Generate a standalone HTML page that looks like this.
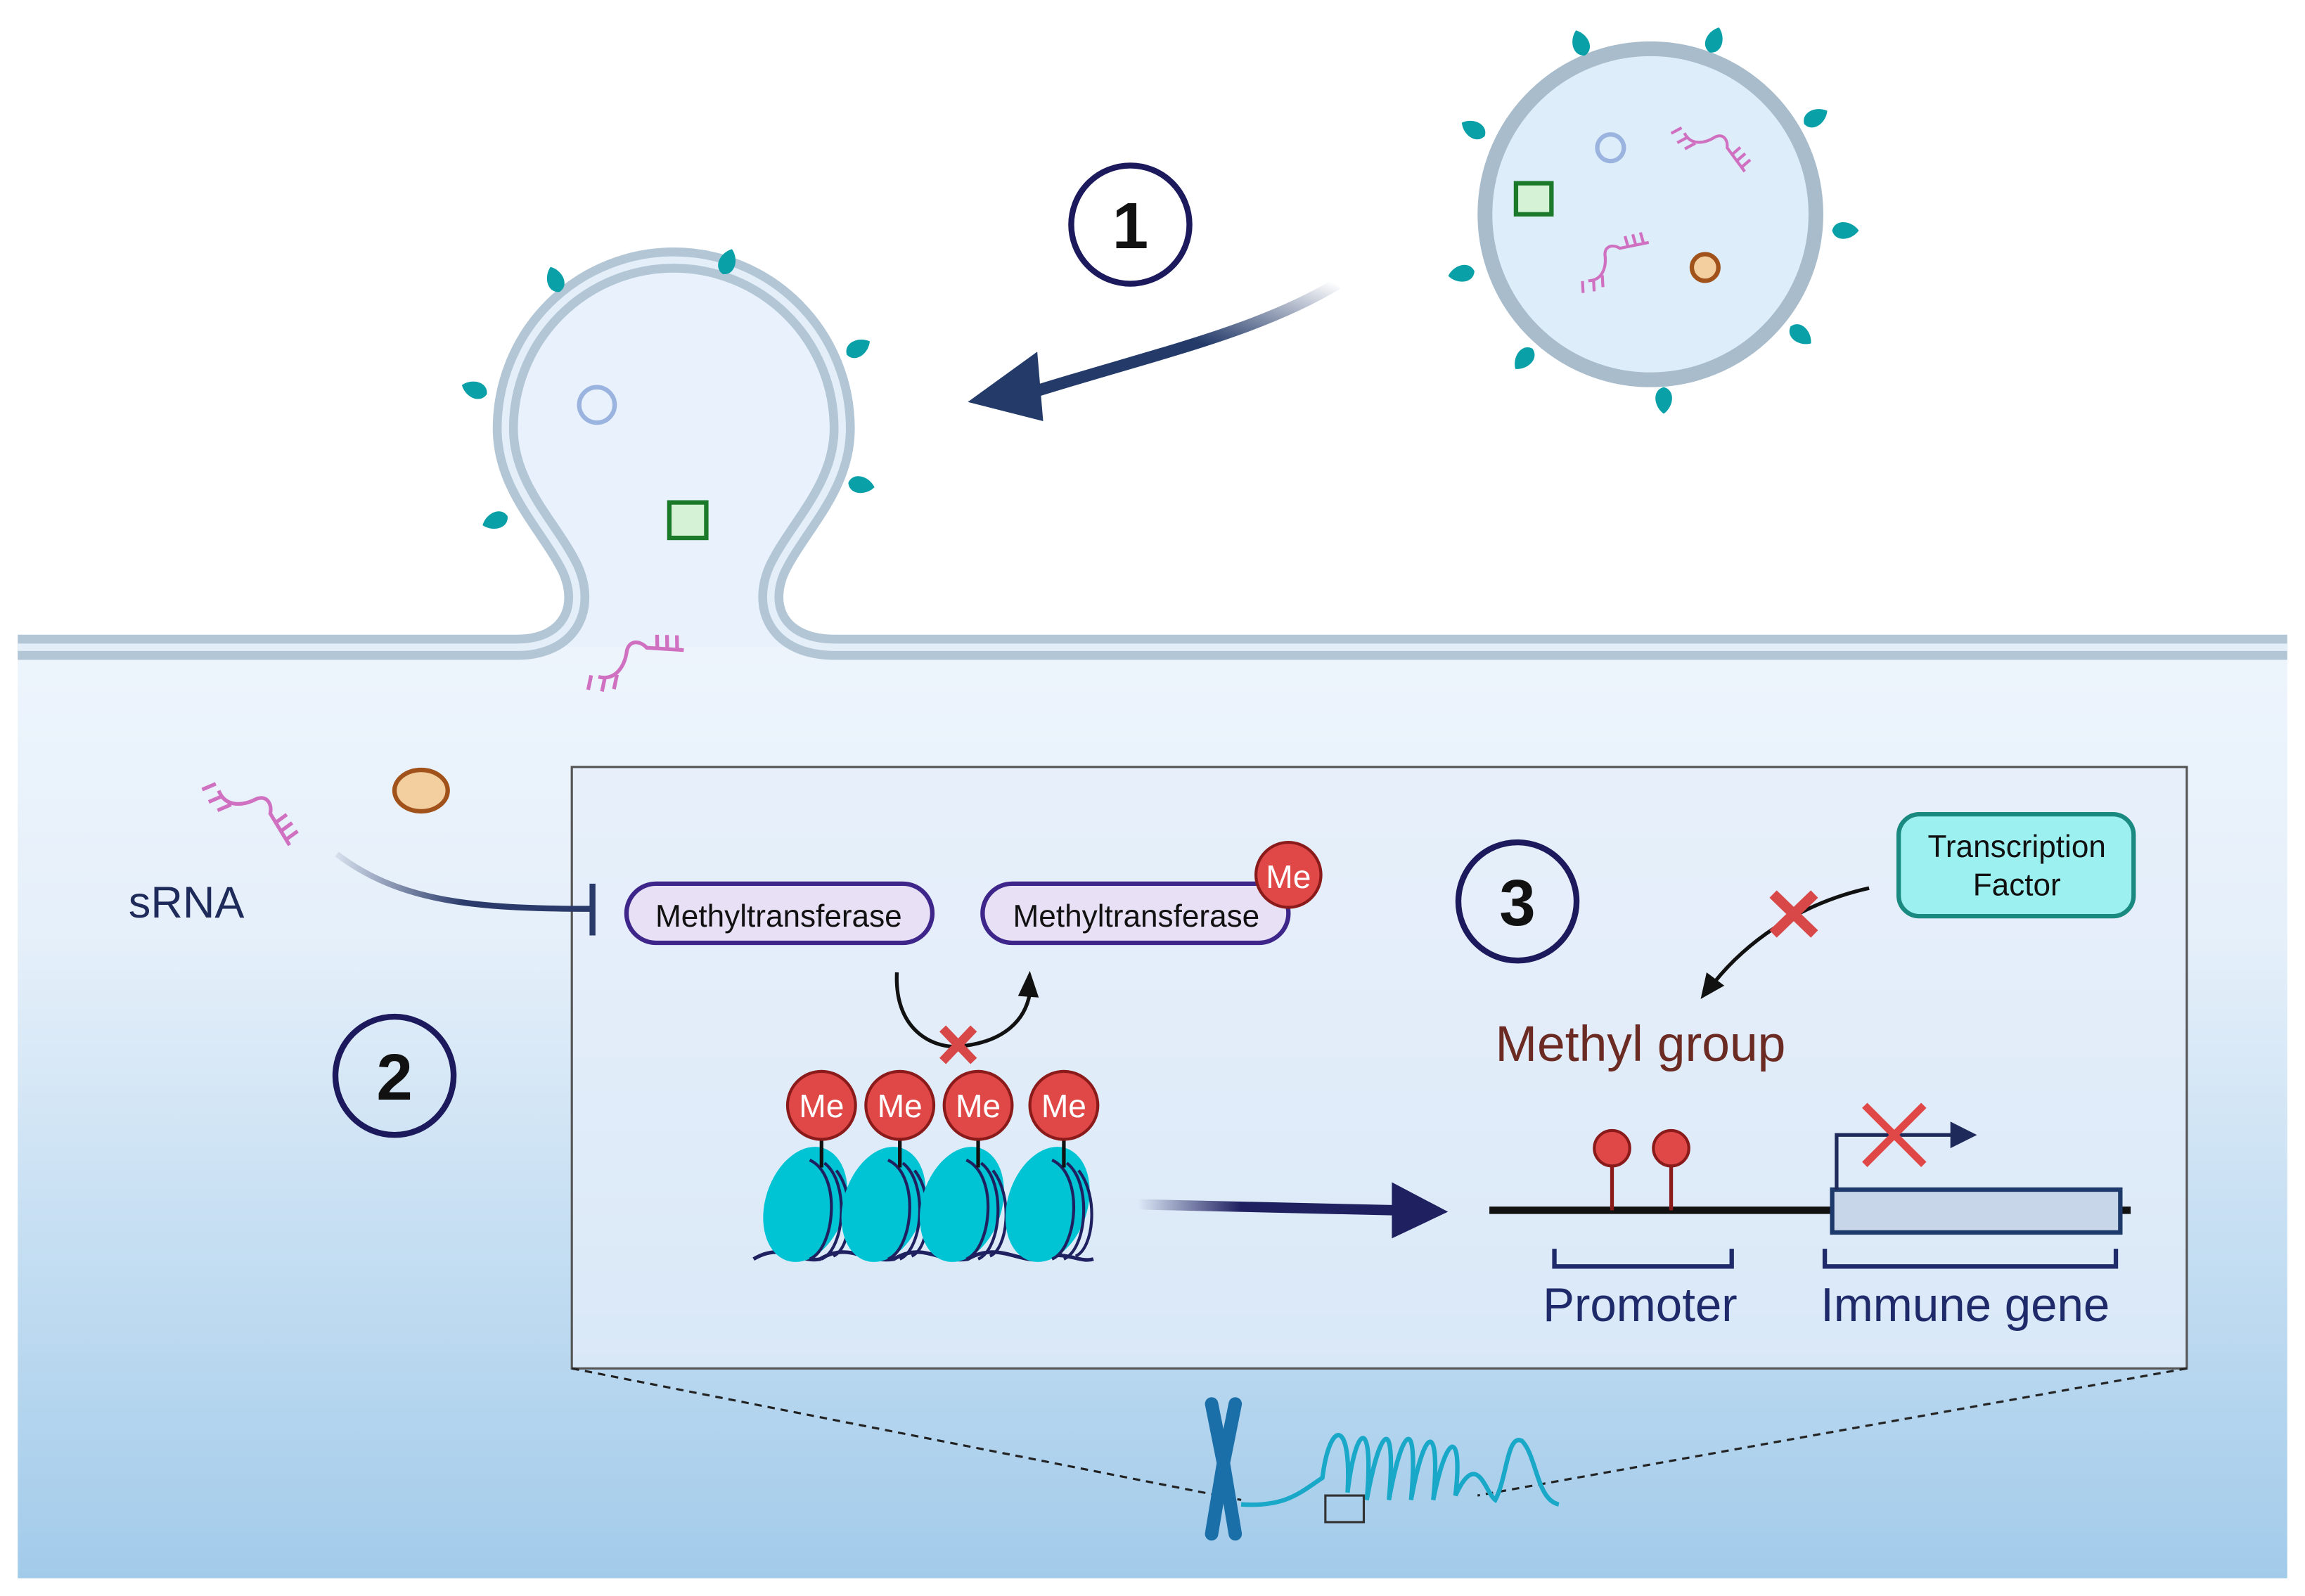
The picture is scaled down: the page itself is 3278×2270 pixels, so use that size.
<!DOCTYPE html>
<html><head><meta charset="utf-8"><style>
html,body{margin:0;padding:0;background:#fff}
svg{display:block}
text{font-family:"Liberation Sans",sans-serif}
</style></head><body>
<svg width="3278" height="2270" viewBox="0 0 1560 1080" preserveAspectRatio="none" xmlns="http://www.w3.org/2000/svg">
<defs>
<linearGradient id="cell" x1="0" y1="0" x2="0" y2="1">
<stop offset="0" stop-color="#edf4fc"/><stop offset="0.3" stop-color="#e6f0fa"/><stop offset="1" stop-color="#a2cbea"/>
</linearGradient>
<linearGradient id="a1" x1="1" y1="0" x2="0" y2="1">
<stop offset="0" stop-color="#243b6a" stop-opacity="0"/><stop offset="0.5" stop-color="#243b6a"/><stop offset="1" stop-color="#243b6a"/>
</linearGradient>
<linearGradient id="a2" x1="0" y1="0" x2="1" y2="0">
<stop offset="0" stop-color="#1f2060" stop-opacity="0"/><stop offset="0.4" stop-color="#1f2060"/><stop offset="1" stop-color="#1f2060"/>
</linearGradient>
<linearGradient id="a3" x1="0" y1="0" x2="1" y2="0">
<stop offset="0" stop-color="#2a3a6a" stop-opacity="0.1"/><stop offset="0.5" stop-color="#2a3a6a"/><stop offset="1" stop-color="#2a3a6a"/>
</linearGradient>
<g id="drop"><path d="M0,-10 C7,-5 8,6 0,8 C-8,6 -7,-5 0,-10 Z" fill="#0aa0a8"/></g>
<g id="srna" fill="none" stroke="#d070c0" stroke-width="2.5"><path d="M0,0 C10,8 20,0 25,-8 C30,-14 36,-10 38,-4 L60,8"/><path d="M-4,-3 l-6,8 M4,2 l-6,8 M12,4 l-6,8 M44,0 l4,-9 M50,3 l4,-9 M56,6 l4,-9"/></g>
</defs>
<rect x="12" y="438" width="1536" height="630" fill="url(#cell)"/>
<!-- bud -->
<path d="M350,438 C385,438 398,412 386,385 C372,356 342,330 342,290 A114 114 0 1 1 570,290 C570,330 540,356 526,385 C514,412 527,438 565,438 Z" fill="#e9f2fc"/>
<path d="M12,438 H350 C385,438 398,412 386,385 C372,356 342,330 342,290 A114 114 0 1 1 570,290 C570,330 540,356 526,385 C514,412 527,438 565,438 H1548" fill="none" stroke="#b2c6d6" stroke-width="17"/>
<path d="M12,438 H350 C385,438 398,412 386,385 C372,356 342,330 342,290 A114 114 0 1 1 570,290 C570,330 540,356 526,385 C514,412 527,438 565,438 H1548" fill="none" stroke="#e3eef8" stroke-width="5"/>
<use href="#drop" transform="translate(376,190) rotate(-20)"/>
<use href="#drop" transform="translate(492,178) rotate(20)"/>
<use href="#drop" transform="translate(580,236) rotate(60)"/>
<use href="#drop" transform="translate(322,264) rotate(-70)"/>
<use href="#drop" transform="translate(582,328) rotate(100)"/>
<use href="#drop" transform="translate(336,352) rotate(-110)"/>
<circle cx="404" cy="274" r="12" fill="none" stroke="#9ab4df" stroke-width="3"/>
<rect x="453" y="340" width="25" height="24" fill="#d6f2d6" stroke="#1a7a2a" stroke-width="3"/>
<use href="#srna" transform="translate(405,458) rotate(-25)"/>
<!-- vesicle -->
<circle cx="1117" cy="145" r="112" fill="#ddeefa" stroke="#a9bccb" stroke-width="10"/>
<use href="#drop" transform="translate(1070,30) rotate(-20)"/>
<use href="#drop" transform="translate(1160,28) rotate(20)"/>
<use href="#drop" transform="translate(1228,80) rotate(60)"/>
<use href="#drop" transform="translate(998,88) rotate(-60)"/>
<use href="#drop" transform="translate(1248,156) rotate(90)"/>
<use href="#drop" transform="translate(990,185) rotate(-100)"/>
<use href="#drop" transform="translate(1218,226) rotate(130)"/>
<use href="#drop" transform="translate(1032,242) rotate(-140)"/>
<use href="#drop" transform="translate(1126,270) rotate(180)"/>
<circle cx="1090" cy="100" r="9" fill="none" stroke="#9ab4df" stroke-width="3"/>
<rect x="1026" y="124" width="24" height="21" fill="#d6f2d6" stroke="#1a7a2a" stroke-width="3"/>
<circle cx="1154" cy="181" r="9" fill="#f3cfa0" stroke="#a0521a" stroke-width="3"/>
<use href="#srna" transform="translate(1140,90) rotate(25) scale(0.8)"/>
<use href="#srna" transform="translate(1075,190) rotate(-40) scale(0.8)"/>
<!-- arrow 1 -->
<path d="M905,192 C850,225 780,240 700,265" fill="none" stroke="url(#a1)" stroke-width="8"/>
<path d="M655,272 L702,238 L706,285 Z" fill="#243b6a"/>
<circle cx="765" cy="152" r="40" fill="#fff" stroke="#1c1a5c" stroke-width="4"/>
<text x="765" y="168" font-size="44" font-weight="bold" text-anchor="middle" fill="#111">1</text>
<!-- free sRNA -->
<use href="#srna" transform="translate(148,535) rotate(30)"/>
<ellipse cx="285" cy="535" rx="18" ry="14" fill="#f3cfa0" stroke="#a0521a" stroke-width="3"/>
<text x="87" y="621" font-size="30" fill="#1e2a5a">sRNA</text>
<circle cx="267" cy="728" r="40" fill="none" stroke="#1c1a5c" stroke-width="4"/>
<text x="267" y="744" font-size="44" font-weight="bold" text-anchor="middle" fill="#111">2</text>
<!-- box -->
<rect x="387" y="519" width="1093" height="407" fill="#e4eef9" fill-opacity="0.75" stroke="#555" stroke-width="1.5"/>
<path d="M228,578 C270,610 320,615 400,615" fill="none" stroke="url(#a3)" stroke-width="4"/>
<line x1="401" y1="598" x2="401" y2="633" stroke="#2a3a6a" stroke-width="4"/>
<rect x="424" y="598" width="207" height="40" rx="20" fill="#e8e0f5" stroke="#3d2589" stroke-width="3"/>
<text x="527" y="627" font-size="21" text-anchor="middle" fill="#111">Methyltransferase</text>
<rect x="665" y="598" width="207" height="40" rx="20" fill="#e8e0f5" stroke="#3d2589" stroke-width="3"/>
<text x="769" y="627" font-size="21" text-anchor="middle" fill="#111">Methyltransferase</text>
<circle cx="872" cy="592" r="22" fill="#e04848" stroke="#8b1a1a" stroke-width="2"/>
<text x="872" y="601" font-size="22" text-anchor="middle" fill="#fff">Me</text>
<path d="M607,658 C605,700 635,710 650,708 C680,705 694,690 697,672" fill="none" stroke="#111" stroke-width="2.5"/>
<path d="M689,674 L697,657 L703,675 Z" fill="#111"/>
<path d="M638,696 L659,718 M659,696 L638,718" stroke="#d84848" stroke-width="6"/>
<!-- nucleosomes -->
<g>
<path d="M510,852 C530,840 540,855 555,852 C575,840 585,855 605,852 C625,840 635,855 655,852 C675,840 690,855 705,852 C720,845 730,855 740,852" fill="none" stroke="#1f2060" stroke-width="2.5"/>
<g id="nuc"><ellipse cx="545" cy="815" rx="27" ry="40" transform="rotate(18 545 815)" fill="#00c4d4"/><path d="M548,785 C570,795 565,845 548,852 M558,787 C575,800 572,845 556,852 M566,792 C580,810 576,845 564,850" fill="none" stroke="#1f2060" stroke-width="2"/></g>
<use href="#nuc" transform="translate(53,0)"/>
<use href="#nuc" transform="translate(106,0)"/>
<use href="#nuc" transform="translate(164,0)"/>
</g>
<g stroke="#111" stroke-width="2.5"><line x1="556" y1="768" x2="556" y2="790"/><line x1="609" y1="768" x2="609" y2="790"/><line x1="662" y1="768" x2="662" y2="790"/><line x1="720" y1="768" x2="720" y2="790"/></g>
<g fill="#e04848" stroke="#8b1a1a" stroke-width="2"><circle cx="556" cy="748" r="23"/><circle cx="609" cy="748" r="23"/><circle cx="662" cy="748" r="23"/><circle cx="720" cy="748" r="23"/></g>
<g font-size="22" fill="#fff" text-anchor="middle"><text x="556" y="756">Me</text><text x="609" y="756">Me</text><text x="662" y="756">Me</text><text x="720" y="756">Me</text></g>
<path d="M770,815 L945,819" stroke="url(#a2)" stroke-width="7"/>
<path d="M942,800 L980,820 L942,838 Z" fill="#1f2060"/>
<!-- circle 3 -->
<circle cx="1027" cy="610" r="40" fill="none" stroke="#1c1a5c" stroke-width="4"/>
<text x="1027" y="626" font-size="44" font-weight="bold" text-anchor="middle" fill="#111">3</text>
<rect x="1285" y="551" width="159" height="69" rx="14" fill="#9cf0f0" stroke="#1a8a80" stroke-width="3"/>
<text x="1365" y="580" font-size="21" text-anchor="middle" fill="#111">Transcription</text>
<text x="1365" y="606" font-size="21" text-anchor="middle" fill="#111">Factor</text>
<path d="M1265,601 C1215,612 1180,640 1160,665" fill="none" stroke="#111" stroke-width="2.5"/>
<path d="M1151,676 L1155,658 L1167,667 Z" fill="#111"/>
<path d="M1200,605 L1228,632 M1228,605 L1200,632" stroke="#d84848" stroke-width="7"/>
<text x="1012" y="718" font-size="34" fill="#6b2a22">Methyl group</text>
<!-- gene -->
<line x1="1008" y1="819" x2="1442" y2="819" stroke="#111" stroke-width="5"/>
<rect x="1240" y="805" width="195" height="29" fill="#c8d6ea" stroke="#1e3a6a" stroke-width="3"/>
<g stroke="#8b1a1a" stroke-width="2.5"><line x1="1091" y1="785" x2="1091" y2="819"/><line x1="1131" y1="785" x2="1131" y2="819"/></g>
<circle cx="1091" cy="777" r="12" fill="#e04848" stroke="#8b1a1a" stroke-width="2"/>
<circle cx="1131" cy="777" r="12" fill="#e04848" stroke="#8b1a1a" stroke-width="2"/>
<path d="M1243,805 V768 H1322" fill="none" stroke="#1e2a5a" stroke-width="2.5"/>
<path d="M1320,759 L1338,768 L1320,777 Z" fill="#1e2a5a"/>
<path d="M1262,748 L1302,788 M1302,748 L1262,788" stroke="#e04848" stroke-width="5"/>
<path d="M1052,845 V857 H1172 V845 M1235,845 V857 H1432 V845" fill="none" stroke="#1e2a6a" stroke-width="3"/>
<text x="1110" y="894" font-size="32" text-anchor="middle" fill="#1e2a6a">Promoter</text>
<text x="1330" y="894" font-size="32" text-anchor="middle" fill="#1e2a6a">Immune gene</text>
<!-- dashed & chromosome -->
<path d="M387,926 L840,1015 M1480,926 L1000,1012" stroke="#222" stroke-width="1.5" stroke-dasharray="5,4"/>
<path d="M820,950 L828,990 L820,1038 M836,950 L828,990 L836,1038" fill="none" stroke="#1a6fa8" stroke-width="9" stroke-linecap="round"/>
<path d="M840,1018 C870,1020 880,1010 895,1000 C900,960 915,960 912,1010 C918,960 930,960 925,1015 C935,960 945,960 940,1015 C950,960 960,960 955,1015 C965,960 975,965 970,1015 C980,965 990,970 985,1012 C1000,980 1005,1010 1012,1015 C1020,1000 1020,970 1030,975 C1040,985 1040,1015 1055,1018" fill="none" stroke="#1aa8c8" stroke-width="3"/>
<rect x="897" y="1012" width="26" height="18" fill="none" stroke="#333" stroke-width="1.5"/>
</svg>
</body></html>
